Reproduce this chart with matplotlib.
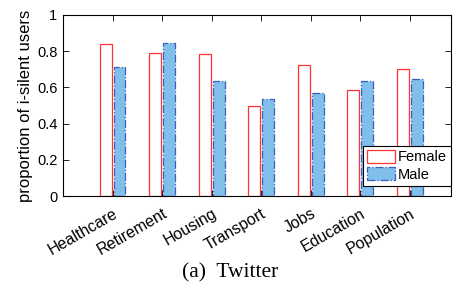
import numpy as np
import matplotlib
matplotlib.use("Agg")
import matplotlib.pyplot as plt
from matplotlib.transforms import ScaledTranslation

plt.rcParams['font.family'] = ['Liberation Sans', 'DejaVu Sans']

categories = ["Healthcare", "Retirement", "Housing", "Transport", "Jobs", "Education", "Population"]
female = [0.841, 0.792, 0.783, 0.497, 0.724, 0.587, 0.700]
male = [0.713, 0.845, 0.635, 0.534, 0.569, 0.634, 0.645]

fig = plt.figure(figsize=(4.6, 2.88), dpi=100)
ax = fig.add_axes([63/460, 1 - 196/288, 388/460, 181/288])

x = np.arange(1, len(categories) + 1)
w = 0.24
ax.bar(x - 0.14, female, w, facecolor="white", edgecolor="#ff3333", linewidth=0.9, label="Female")
ax.bar(x + 0.14, male, w, facecolor="#80bfea", edgecolor="#3a5fbf", linewidth=0.9,
       linestyle="-.", label="Male")

ax.set_xlim(0, 7.83)
ax.set_ylim(0, 1)
ax.set_yticks([0, 0.2, 0.4, 0.6, 0.8, 1])
ax.set_yticklabels(["0", "0.2", "0.4", "0.6", "0.8", "1"])
ax.set_xticks(x)
ax.set_xticklabels(categories, rotation=30, ha="right", va="top", rotation_mode="anchor",
                   fontsize=11.5)
# shift rotated labels a little to the right, like the original
off = ScaledTranslation(6/100, 0, fig.dpi_scale_trans)
for lab in ax.get_xticklabels():
    lab.set_transform(lab.get_transform() + off)
ax.tick_params(direction="in", top=True, right=True, length=4, width=0.6)
ax.tick_params(axis="y", labelsize=10.5, pad=4)
ax.tick_params(axis="x", pad=7)
for s in ax.spines.values():
    s.set_linewidth(0.8)
ax.set_ylabel("proportion of i-silent users", fontsize=12, labelpad=3)

leg = ax.legend(loc="lower right", bbox_to_anchor=(1.0, 0.055), fontsize=10.5, fancybox=False,
                edgecolor="black", framealpha=1, handlelength=1.9, handleheight=0.96,
                handletextpad=0.2, borderpad=0.3, labelspacing=0.2, borderaxespad=0)
leg.get_frame().set_linewidth(0.8)

fig.text(0.5, 1 - 273/288, "(a)  Twitter", ha="center", va="center", fontsize=15.5,
         family=["Liberation Serif", "DejaVu Serif"])

fig.savefig("out.png", dpi=100)
